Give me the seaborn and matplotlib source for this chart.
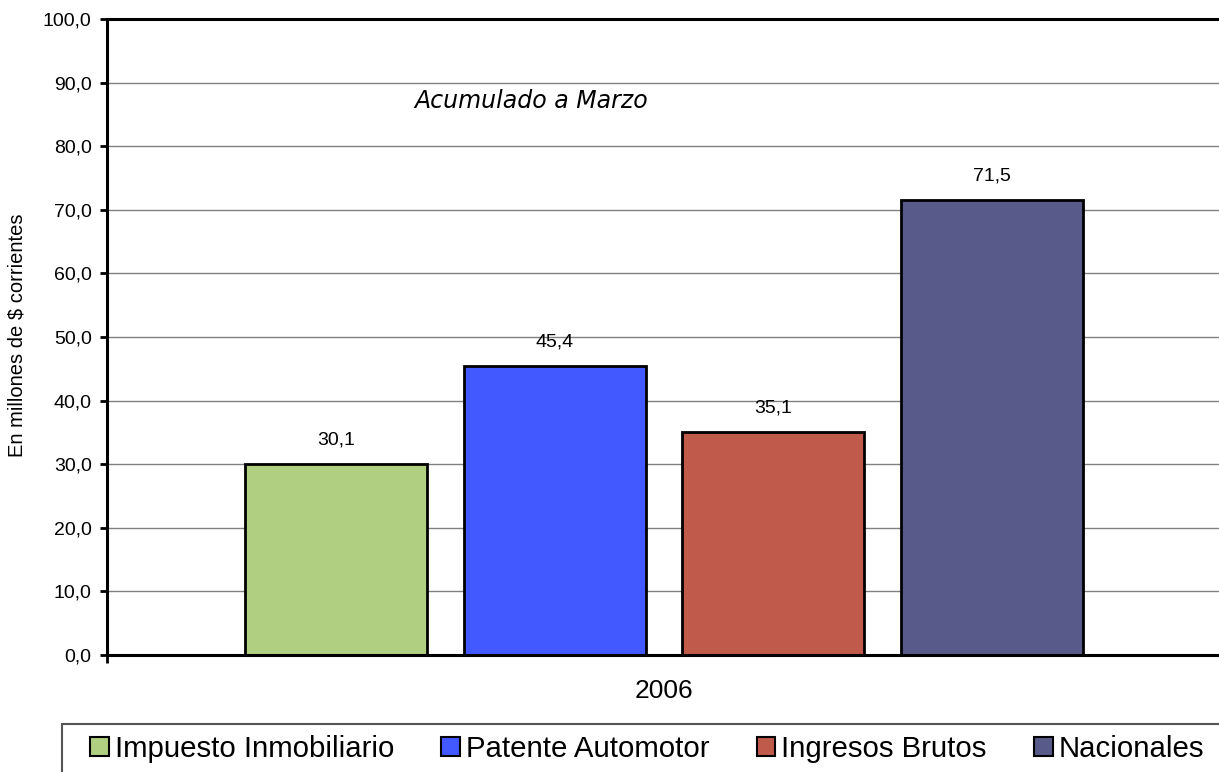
import matplotlib
matplotlib.use("Agg")
import matplotlib.pyplot as plt
import matplotlib.patches as mpatches
from matplotlib.ticker import FuncFormatter, MultipleLocator
import pandas as pd
import seaborn as sns

# data
year = "2006"
series = ["Impuesto Inmobiliario", "Patente Automotor", "Ingresos Brutos", "Nacionales"]
values = [30.1, 45.4, 35.1, 71.5]
colors = ["#B0CF80", "#4259FF", "#C05A4B", "#585A8A"]

df = pd.DataFrame({"year": [year] * len(series), "serie": series, "valor": values})

sns.set_style("white")
plt.rcParams["font.family"] = ["Liberation Sans", "DejaVu Sans"]
plt.rcParams["text.color"] = "black"

W, H = 1219, 772
fig = plt.figure(figsize=(W / 100, H / 100), dpi=100)
ax = fig.add_axes([107 / W, 1 - 655 / H, (1221 - 107) / W, (655 - 19) / H])

sns.barplot(data=df, x="year", y="valor", hue="serie", palette=colors,
            width=0.7855, gap=0.168, saturation=1, edgecolor="black",
            linewidth=2, ax=ax, legend=False)

ax.set_xlim(-0.5, 0.5)
ax.set_ylim(0, 100)
ax.yaxis.set_major_locator(MultipleLocator(10))
ax.yaxis.set_major_formatter(FuncFormatter(lambda v, p: f"{v:.1f}".replace(".", ",")))
ax.yaxis.grid(True, color="#808080", linewidth=1)
ax.set_axisbelow(True)

for side in ["top", "left", "bottom"]:
    ax.spines[side].set_color("black")
    ax.spines[side].set_linewidth(2.2)
ax.spines["right"].set_visible(False)

ax.tick_params(axis="y", direction="out", length=5, width=2, pad=6,
               labelsize=14, left=True, colors="black")
ax.tick_params(axis="x", which="major", length=0, pad=17, labelsize=19, labelcolor="black")
ax.set_xticks([-0.5, 0.5], minor=True)
ax.tick_params(axis="x", which="minor", direction="out", length=6, width=2,
               bottom=True, color="black")
ax.set_xlabel("")
ax.set_ylabel("")

for cont, v in zip(ax.containers, values):
    ax.bar_label(cont, labels=[f"{v:.1f}".replace(".", ",")], padding=11,
                 fontsize=14, color="black")

fig.text(17 / W, 1 - 335 / H, "En millones de $ corrientes", rotation=90,
         ha="center", va="center", fontsize=14.5)
fig.text(531 / W, 1 - 101 / H, "Acumulado a Marzo", ha="center", va="center",
         fontsize=17, style="italic", family=["DejaVu Sans"])

# legend
handles = [mpatches.Patch(facecolor=c, edgecolor="black", linewidth=1.5) for c in colors]
fig.legend(handles, series, loc="center left", bbox_to_anchor=(90 / W, 1 - 749 / H),
           ncol=4, frameon=False, fontsize=21.2, handlelength=0.64, handleheight=0.64,
           handletextpad=0.2, columnspacing=1.6, borderaxespad=0, borderpad=0)
frame = mpatches.Rectangle((62 / W, -0.1), 1.2, (1 - 724 / H) + 0.1,
                           transform=fig.transFigure, fill=False,
                           edgecolor="#555555", linewidth=1.5, clip_on=False)
fig.add_artist(frame)

fig.savefig("out.png", dpi=100)
